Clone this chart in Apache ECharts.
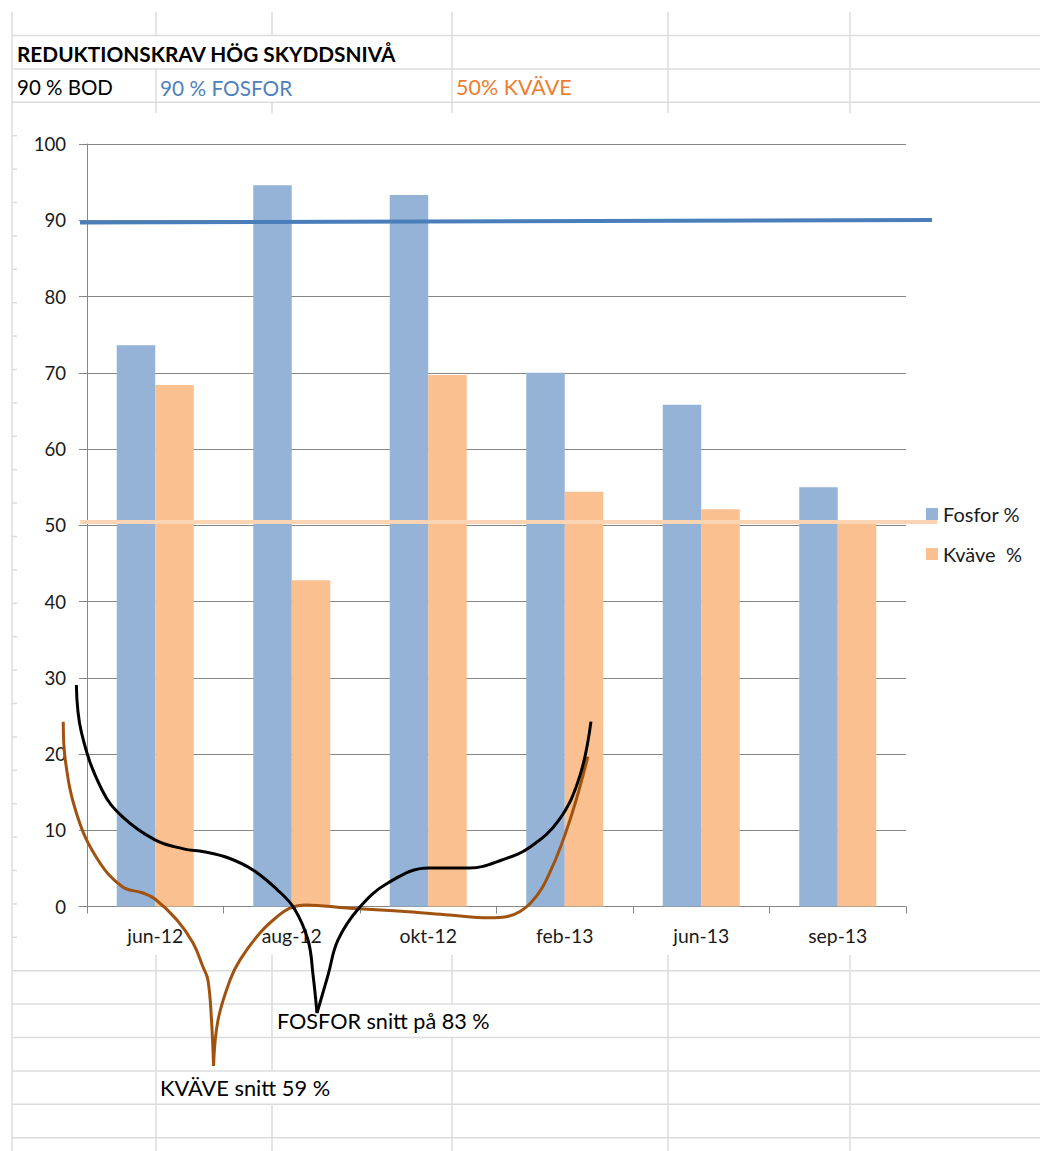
<!DOCTYPE html>
<html>
<head>
<meta charset="utf-8">
<script src="https://cdn.jsdelivr.net/npm/echarts@6/dist/echarts.min.js"></script>
<style>
html,body{margin:0;padding:0;background:#fff;}
#chart{width:1040px;height:1151px;}
</style>
</head>
<body>
<div id="chart"></div>
<script>
// ---- data ----
const categories = ['jun-12', 'aug-12', 'okt-12', 'feb-13', 'jun-13', 'sep-13'];
const fosfor = [73.6, 94.6, 93.3, 70.0, 65.8, 55.0];
const kvave = [68.4, 42.8, 69.7, 54.4, 52.1, 50.2];
const seriesNames = ['Fosfor %', 'Kväve  %'];
const yMin = 0, yMax = 100, yStep = 10;

// requirement lines (x in category units from the axis start, y in %)
const fosforReq = [[-0.051, 89.7], [6.19, 90.04]];
const kvaveReq = [[-0.05, 50.43], [6.23, 50.43]];

// hand-drawn annotation curves (x in category units, y in %)
const blackLeft = [[-0.078, 29.05], [-0.040, 22.76], [0.110, 15.28], [0.259, 11.78], [0.498, 8.74], [0.708, 7.56], [0.857, 7.19], [1.037, 6.36], [1.216, 4.79], [1.396, 2.16], [1.516, -0.20], [1.619, -4.39], [1.656, -8.98], [1.685, -13.97]];
const blackRight = [[1.685, -13.97], [1.766, -8.98], [1.839, -4.39], [1.993, -0.20], [2.204, 3.08], [2.503, 5.05], [2.801, 5.05], [3.040, 6.10], [3.250, 7.84], [3.458, 11.35], [3.609, 17.03], [3.692, 24.24]];
const brownLeft = [[-0.174, 24.24], [-0.159, 19.22], [-0.069, 11.78], [0.081, 6.10], [0.259, 2.60], [0.410, 1.77], [0.498, 0.98], [0.659, -1.77], [0.777, -4.79], [0.850, -7.94], [0.886, -9.64], [0.912, -14.89], [0.927, -20.92]];
const brownRight = [[0.927, -20.92], [0.960, -14.89], [1.048, -9.64], [1.121, -7.00], [1.267, -3.47], [1.390, -1.38], [1.487, -0.20], [1.604, 0.20], [1.905, -0.20], [2.352, -0.68], [2.652, -1.11], [2.952, -1.47], [3.070, -1.34], [3.250, 0.46], [3.399, 4.79], [3.546, 11.78], [3.669, 19.65]];

// texts
const titleText = 'REDUKTIONSKRAV HÖG SKYDDSNIVÅ';
const bodText = '90 % BOD';
const fosforText = '90 % FOSFOR';
const kvaveText = '50% KVÄVE';
const fosforNote = 'FOSFOR snitt på 83 %';
const kvaveNote = 'KVÄVE snitt 59 %';

// ---- spreadsheet background (cell grid) ----
const FONT = 'Lato, "Noto Sans", sans-serif';
const gridColor = '#dcdcdc';
const chartTop = 113, chartBottom = 955, chartLeft = 17;
const rowY = [];
for (let k = 0; k <= 33; k++) rowY.push(35.5 + 33.4 * k);
const cols = [156, 272, 452, 668, 850];
// rows where a column line is hidden by overflowing text: [colX, rowIndex]
const hidden = [[156, 0], [272, 0], [272, 1], [452, 29], [272, 31]];
const g = [];
function line(x1, y1, x2, y2) {
  g.push({ type: 'line', silent: true, shape: { x1, y1, x2, y2 }, style: { stroke: gridColor, lineWidth: 1.5 } });
}
rowY.forEach(y => {
  if (y > chartTop && y < chartBottom) line(12, y, chartLeft, y);
  else line(12, y, 1040, y);
});
line(12, 12, 12, 1151);
cols.forEach(x => {
  const bounds = [12].concat(rowY).concat([1151]);
  for (let i = 0; i < bounds.length - 1; i++) {
    let a = bounds[i], b = bounds[i + 1];
    const rowIdx = i - 1;
    if (hidden.some(h => h[0] === x && h[1] === rowIdx)) continue;
    if (a < chartTop && b > chartTop) b = chartTop;
    if (a < chartBottom && b > chartBottom) a = chartBottom;
    if (a >= chartTop && b <= chartBottom) continue;
    line(x, a, x, b);
  }
});
function txt(x, y, text, color, weight, size) {
  g.push({ type: 'text', x, y, silent: true, style: { text, fill: color, font: (weight || 'normal') + ' ' + (size || 18) + 'px ' + FONT, textVerticalAlign: 'middle', textAlign: 'left' } });
}
txt(17, 53, titleText, '#000', 'bold', 20.8);
txt(17, 87, bodText, '#000', 'normal', 20.5);
txt(160, 87, fosforText, '#4f81bd', 'normal', 20.8);
txt(456, 87, kvaveText, '#ed7d31', 'normal', 21.5);
txt(277, 1021, fosforNote, '#000', 'normal', 21.6);
txt(160, 1087, kvaveNote, '#000', 'normal', 21.8);

// ---- chart ----
const chart = echarts.init(document.getElementById('chart'), null, { renderer: 'svg' });
const curve = (data, color) => ({
  type: 'line', xAxisIndex: 1, yAxisIndex: 1, data, smooth: 0.4, symbol: 'none', clip: false, silent: true, z: 6,
  lineStyle: { color, width: 3 }
});
chart.setOption({
  animation: false,
  backgroundColor: '#fff',
  graphic: g,
  grid: [
    { left: 87, top: 144, width: 819, height: 762.5 },
    // overlay grid with the same scale, widened so the drawn lines may leave the plot
    { left: 18.75, top: 67.75, width: 955.5, height: 1067.5 }
  ],
  legend: {
    data: seriesNames, orient: 'vertical', left: 926, top: 504, padding: 0, itemWidth: 12, itemHeight: 12, itemGap: 20,
    icon: 'rect', textStyle: { fontFamily: FONT, fontSize: 20, color: '#1a1a1a' }
  },
  xAxis: [{
    type: 'category', data: categories, boundaryGap: true, gridIndex: 0,
    axisLine: { lineStyle: { color: '#868686', width: 1 } },
    axisTick: { show: true, length: 7, lineStyle: { color: '#868686' } },
    axisLabel: { fontFamily: FONT, fontSize: 19.4, color: '#1a1a1a', margin: 19 }
  }, {
    type: 'value', gridIndex: 1, min: -0.5, max: 6.5, show: false
  }],
  yAxis: [{
    type: 'value', gridIndex: 0, min: yMin, max: yMax, interval: yStep,
    axisLine: { show: true, lineStyle: { color: '#868686', width: 1 } },
    axisTick: { show: true, length: 8, lineStyle: { color: '#868686' } },
    splitLine: { lineStyle: { color: '#868686', width: 1 } },
    axisLabel: { fontFamily: FONT, fontSize: 18.6, color: '#1a1a1a', margin: 21 }
  }, {
    type: 'value', gridIndex: 1, min: -30, max: 110, show: false, splitLine: { show: false }
  }],
  series: [
    { name: seriesNames[0], type: 'bar', data: fosfor, barWidth: 38.5, barGap: '0%', itemStyle: { color: '#95b3d7' }, z: 2 },
    { name: seriesNames[1], type: 'bar', data: kvave, barWidth: 38.5, barGap: '0%', itemStyle: { color: '#fac090' }, z: 2 },
    { type: 'line', xAxisIndex: 1, yAxisIndex: 1, data: fosforReq, symbol: 'none', clip: false, silent: true, z: 4, lineStyle: { color: '#4a7ebb', width: 4 } },
    { type: 'line', xAxisIndex: 1, yAxisIndex: 1, data: kvaveReq, symbol: 'none', clip: false, silent: true, z: 4, lineStyle: { color: '#fbd4b4', width: 4 } },
    curve(brownLeft, '#a0520f'),
    curve(brownRight, '#a0520f'),
    curve(blackLeft, '#000'),
    curve(blackRight, '#000')
  ]
});
</script>
</body>
</html>
